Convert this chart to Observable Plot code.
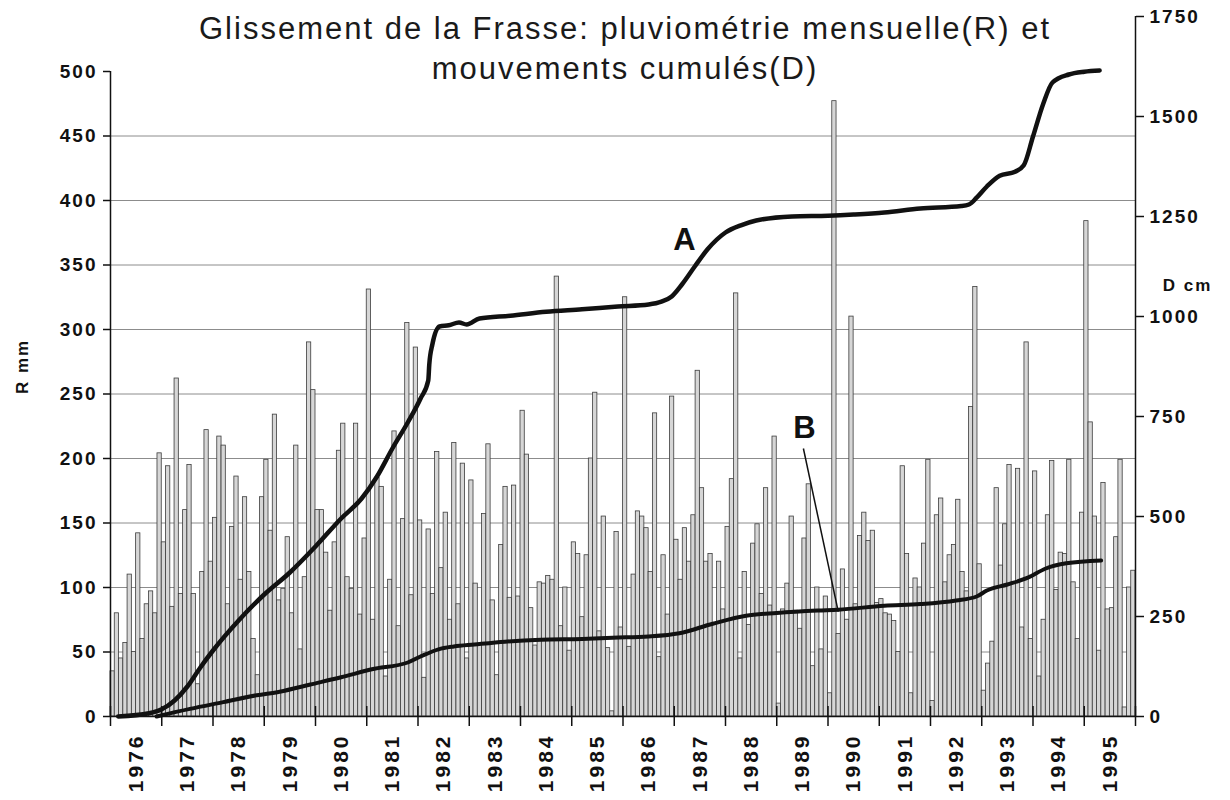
<!DOCTYPE html>
<html><head><meta charset="utf-8">
<script src="https://cdn.jsdelivr.net/npm/d3@7"></script>
<script src="https://cdn.jsdelivr.net/npm/@observablehq/plot@0.6"></script>
<style>
body{margin:0;background:#fff;}
#wrap{position:relative;width:1230px;height:800px;overflow:hidden;}
#title{position:absolute;left:10px;top:9px;width:1230px;text-align:center;font-family:"Liberation Sans",Arial,sans-serif;font-size:31px;line-height:40px;color:#1a1a1a;letter-spacing:2px;}
#chart .yearlab text{font-size:21px !important;letter-spacing:3px !important;}
</style></head><body>
<div id="wrap"><div id="chart"></div><div id="title">Glissement de la Frasse: pluviométrie mensuelle(R) et<br>mouvements cumulés(D)</div></div>
<script>
// Monthly rainfall R (mm), one array per year, Jan..Dec
const rain1976 = [35, 80, 45, 57, 110, 50, 142, 60, 87, 97, 80, 204];
const rain1977 = [135, 194, 85, 262, 95, 160, 195, 95, 25, 112, 222, 120];
const rain1978 = [154, 217, 210, 87, 147, 186, 106, 170, 112, 60, 32, 170];
const rain1979 = [199, 144, 234, 90, 99, 139, 80, 210, 52, 108, 290, 253];
const rain1980 = [160, 160, 127, 82, 135, 206, 227, 108, 99, 227, 79, 138];
const rain1981 = [331, 75, 185, 178, 31, 106, 221, 70, 153, 305, 94, 286];
const rain1982 = [152, 30, 145, 95, 205, 115, 158, 75, 212, 87, 196, 45];
const rain1983 = [183, 103, 56, 157, 211, 90, 32, 133, 178, 92, 179, 93];
const rain1984 = [237, 203, 84, 55, 104, 103, 109, 106, 341, 70, 100, 51];
const rain1985 = [135, 126, 77, 125, 200, 251, 66, 155, 53, 4, 143, 69];
const rain1986 = [325, 54, 110, 159, 155, 146, 112, 235, 46, 125, 79, 248];
const rain1987 = [137, 106, 146, 120, 156, 268, 177, 120, 126, 71, 120, 83];
const rain1988 = [147, 184, 328, 45, 112, 71, 134, 149, 95, 177, 86, 217];
const rain1989 = [10, 83, 103, 155, 82, 68, 138, 180, 39, 100, 52, 93];
const rain1990 = [18, 477, 64, 114, 75, 310, 87, 140, 158, 136, 144, 88];
const rain1991 = [91, 80, 79, 74, 50, 194, 126, 18, 107, 100, 134, 199];
const rain1992 = [12, 156, 169, 104, 125, 133, 168, 112, 97, 240, 333, 118];
const rain1993 = [20, 41, 58, 177, 117, 149, 195, 104, 192, 69, 290, 60];
const rain1994 = [190, 31, 75, 156, 198, 98, 127, 126, 199, 104, 60, 158];
const rain1995 = [384, 228, 155, 51, 181, 83, 84, 139, 199, 7, 100, 113];

const yearLabels = ["1976","1977","1978","1979","1980","1981","1982","1983","1984","1985",
  "1986","1987","1988","1989","1990","1991","1992","1993","1994","1995"];
const leftTicks = [0, 50, 100, 150, 200, 250, 300, 350, 400, 450, 500];
const gridTicks = [50, 100, 150, 200, 250, 300, 350, 400, 450];
const rightTicks = [0, 250, 500, 750, 1000, 1250, 1500, 1750];

// Cumulative movement D (cm): time (decimal year) and value
const lineA_t = [1976.15, 1976.75, 1977.0, 1977.25, 1977.5, 1977.75, 1978.0, 1978.5, 1979.0, 1979.5,
  1980.0, 1980.5, 1980.9, 1981.2, 1981.5, 1981.8, 1982.05, 1982.2, 1982.22, 1982.28, 1982.42,
  1982.6, 1982.8, 1982.95, 1983.2, 1983.8, 1984.5, 1985.2, 1985.9, 1986.5, 1986.75, 1986.95,
  1987.15, 1987.4, 1987.65, 1988.0, 1988.3, 1988.6, 1989.3, 1990.0, 1990.5, 1991.1, 1991.8,
  1992.6, 1992.75, 1992.9, 1993.1, 1993.35, 1993.65, 1993.82, 1994.0, 1994.2, 1994.38, 1994.7,
  1995.0, 1995.3];
const lineA_D = [0, 8, 18, 40, 75, 122, 165, 240, 305, 360,
  425, 495, 545, 600, 670, 735, 795, 840, 880, 930, 975,
  978, 985, 980, 995, 1002, 1012, 1018, 1025, 1030, 1037, 1050,
  1080, 1125, 1168, 1210, 1228, 1240, 1250, 1252, 1255, 1260, 1270,
  1276, 1280, 1297, 1325, 1352, 1362, 1378, 1450, 1532, 1585, 1605,
  1612, 1615];
const lineB_t = [1976.9, 1977.55, 1978.2, 1978.85, 1979.3, 1979.9, 1980.5, 1981.1, 1981.8, 1982.05,
  1982.4, 1982.7, 1983.1, 1983.7, 1984.4, 1985.2, 1985.8, 1986.5, 1987.1, 1987.75, 1988.4,
  1989.0, 1989.8, 1990.2, 1991.1, 1991.8, 1992.5, 1992.9, 1993.1, 1993.5, 1993.9, 1994.25,
  1994.65, 1995.33];
const lineB_D = [0, 19, 36, 53, 62, 80, 98, 118, 135, 150,
  168, 175, 180, 187, 192, 194, 197, 200, 208, 232, 252,
  259, 265, 267, 277, 281, 290, 300, 315, 330, 347, 370,
  383, 390];

// Annotations (data space: decimal year, D cm)
const annLabels = ["A", "B"];
const annT = [1987.22, 1989.56];
const annD = [1190, 720];
const leaderT = [1989.52, 1990.2];
const leaderD = [670, 262];

// ---- build tables ----
const rainByYear = [rain1976, rain1977, rain1978, rain1979, rain1980, rain1981, rain1982, rain1983,
  rain1984, rain1985, rain1986, rain1987, rain1988, rain1989, rain1990, rain1991, rain1992,
  rain1993, rain1994, rain1995];
const bars = rainByYear.flatMap((arr, yi) => arr.map((r, m) => ({t: +yearLabels[yi] + m / 12, r})));
const firstYear = +yearLabels[0];
const lastYear = +yearLabels[yearLabels.length - 1] + 1;
const yearBounds = yearLabels.map(Number).concat([lastYear]);
const yearTicks = yearLabels.map(y => ({t: +y + 0.5, label: y}));
const lineA = lineA_t.map((t, i) => ({t, D: lineA_D[i]}));
const lineB = lineB_t.map((t, i) => ({t, D: lineB_D[i]}));
const ann = annLabels.map((label, i) => ({label, t: annT[i], D: annD[i]}));
const leader = [{t1: leaderT[0], D1: leaderD[0], t2: leaderT[1], D2: leaderD[1]}];

// left 0..500 occupies 645px, right 0..1750 occupies 700px
const yTop = 500 * 700 / 645;
const k = yTop / 1750;

const plot = Plot.plot({
  width: 1230,
  height: 800,
  marginLeft: 110,
  marginRight: 95,
  marginTop: 16,
  marginBottom: 84,
  style: {fontFamily: "Liberation Sans, Arial, sans-serif", fontSize: "19px", fontWeight: "bold", letterSpacing: "2px", color: "#111", background: "#fff"},
  x: {domain: [firstYear, lastYear], axis: null},
  y: {domain: [0, yTop], axis: null},
  marks: [
    Plot.ruleY(gridTicks, {stroke: "#8c8c8c", strokeWidth: 1}),
    Plot.rectY(bars, {x1: "t", x2: d => d.t + 1 / 12, y: "r", fill: "#d6d6d6", stroke: "#3c3c3c", strokeWidth: 0.8}),
    Plot.line(lineB, {x: "t", y: d => d.D * k, stroke: "#111", strokeWidth: 4, curve: "monotone-x"}),
    Plot.line(lineA, {x: "t", y: d => d.D * k, stroke: "#111", strokeWidth: 4.5, curve: "monotone-x"}),
    Plot.link(leader, {x1: "t1", y1: d => d.D1 * k, x2: "t2", y2: d => d.D2 * k, stroke: "#111", strokeWidth: 1.5}),
    Plot.text(ann, {x: "t", y: d => d.D * k, text: "label", fontSize: 31, fontWeight: "bold", fill: "#111"}),
    // axes lines
    Plot.ruleY([0], {stroke: "#111", strokeWidth: 1.5}),
    Plot.ruleX([firstYear], {y1: 0, y2: 500, stroke: "#111", strokeWidth: 1.5}),
    Plot.ruleX([lastYear], {y1: 0, y2: yTop, stroke: "#111", strokeWidth: 1.5}),
    // x ticks crossing the axis at year boundaries
    Plot.ruleX(yearBounds, {insetTop: 690, insetBottom: -10, stroke: "#111", strokeWidth: 1.5}),
    // year labels, rotated
    Plot.text(yearTicks, {x: "t", text: "label", frameAnchor: "bottom", dy: 17, rotate: -90, textAnchor: "end", lineAnchor: "middle", fontSize: 21, fontWeight: "bold", fill: "#111", className: "yearlab"}),
    Plot.axisY({anchor: "left", ticks: leftTicks, tickSize: 7, tickPadding: 6, label: null, strokeWidth: 1.5}),
    Plot.axisY({anchor: "right", ticks: rightTicks.map(d => d * k), tickFormat: d => String(Math.round(d / k)), tickSize: 8, tickPadding: 6, label: null, strokeWidth: 1.5}),
    Plot.text(["R mm"], {frameAnchor: "left", dx: -88, rotate: -90, textAnchor: "middle", fontSize: 17}),
    Plot.text(["D cm"], {frameAnchor: "right", dx: 52, dy: -81, textAnchor: "middle", fontSize: 17})
  ]
});
document.getElementById("chart").appendChild(plot);
</script>
</body></html>
